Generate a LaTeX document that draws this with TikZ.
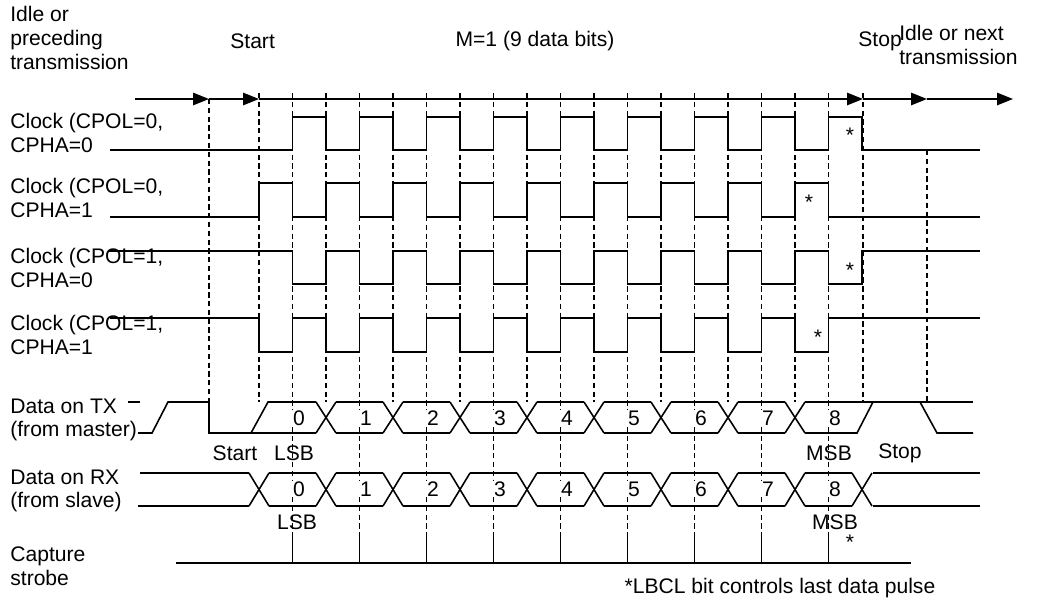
\documentclass[tikz,border=0pt]{standalone}
\usepackage{fontspec}
\setmainfont{Liberation Sans}
\usetikzlibrary{arrows.meta}
\tikzset{
  sig/.style={line width=0.9pt},
  grid/.style={dashed, line width=0.6pt, dash pattern=on 3pt off 2pt},
  lbl/.style={font=\fontsize{12}{13.5}\selectfont, inner sep=0pt, align=left},
  tip/.style={-{Triangle[length=9pt,width=7pt]}}
}
\begin{document}
\begin{tikzpicture}[x=0.02cm, y=-0.02cm]
\useasboundingbox (0,0) rectangle (1039,600);

% Header texts
\node[lbl, anchor=north west] (idlepre) at (10,6) {Idle or\\preceding\\transmission};
\node[lbl, anchor=west] (hstart) at (230,41) {Start};
\node[lbl] (mbits) at (535,41) {M=1 (9 data bits)};
\node[lbl, anchor=west] (hstop) at (858,41) {Stop};
\node[lbl, anchor=west] (idlenext) at (899,45) {Idle or next\\transmission};

% Time axis with arrows
\coordinate (t0) at (135,99);
\coordinate (t1) at (209,99);
\coordinate (t2) at (259,99);
\coordinate (t3) at (863,99);
\coordinate (t4) at (927,99);
\coordinate (t5) at (1013,99);
\draw[sig, tip] (t0) -- (t1);
\draw[sig, tip] (t1) -- (t2);
\draw[sig, tip] (t2) -- (t3);
\draw[sig, tip] (t3) -- (t4);
\draw[sig, tip] (t4) -- (t5);

% Dashed grid lines
\draw[grid] (209,99) -- (209,433);
\draw[grid] (259,93) -- (259,402);
\draw[grid] (863,93) -- (863,402);
\draw[grid] (927,150) -- (927,402);
\foreach \k in {1,...,8}
  \draw[grid] ({259+67*\k},93) -- ({259+67*\k},402);
\foreach \k in {0,...,8}
  \draw[grid] ({292.5+67*\k},93) -- ({292.5+67*\k},535);

% Row labels
\node[lbl, anchor=west] (ck00) at (10,133) {Clock (CPOL=0,\\CPHA=0};
\node[lbl, anchor=west] (ck01) at (10,198) {Clock (CPOL=0,\\CPHA=1};
\node[lbl, anchor=west] (ck10) at (10,268) {Clock (CPOL=1,\\CPHA=0};
\node[lbl, anchor=west] (ck11) at (10,335) {Clock (CPOL=1,\\CPHA=1};
\node[lbl, anchor=west] (txl) at (10,420) {Data on TX\\(from master)};
\node[lbl, anchor=west] (rxl) at (10,491) {Data on RX\\(from slave)};
\node[lbl, anchor=west] (strl) at (10,566) {Capture\\strobe};

% Clock waveforms
\draw[sig] (110,150) foreach \k in {0,...,8}{ -- ({292.5+67*\k},150) -- ({292.5+67*\k},117) -- ({326+67*\k},117) -- ({326+67*\k},150)} -- (980,150);
\draw[sig] (110,217) foreach \k in {0,...,8}{ -- ({259+67*\k},217) -- ({259+67*\k},183) -- ({292.5+67*\k},183) -- ({292.5+67*\k},217)} -- (980,217);
\draw[sig] (108,251) foreach \k in {0,...,8}{ -- ({292.5+67*\k},251) -- ({292.5+67*\k},284) -- ({326+67*\k},284) -- ({326+67*\k},251)} -- (980,251);
\draw[sig] (110,318) foreach \k in {0,...,8}{ -- ({259+67*\k},318) -- ({259+67*\k},352) -- ({292.5+67*\k},352) -- ({292.5+67*\k},318)} -- (980,318);
\node[lbl] (s1) at (850,135) {*};
\node[lbl] (s2) at (809,202) {*};
\node[lbl] (s3) at (850,270) {*};
\node[lbl] (s4) at (818,337) {*};

% TX data
\draw[sig] (138,433) -- (152,433) -- (168,402) -- (209,402) -- (209,433) -- (316,433);
\draw[sig] (251,433) -- (268,402) -- (316,402);
\foreach \k in {1,...,8}{
  \draw[sig] ({249+67*\k},402) -- ({269+67*\k},433);
  \draw[sig] ({249+67*\k},433) -- ({269+67*\k},402);
}
\foreach \k in {1,...,7}{
  \draw[sig] ({269+67*\k},402) -- ({316+67*\k},402);
  \draw[sig] ({269+67*\k},433) -- ({316+67*\k},433);
}
\draw[sig] (805,402) -- (973,402);
\draw[sig] (805,433) -- (857,433) -- (873,402);
\draw[sig] (920,402) -- (937,433) -- (973,433);
\draw[sig] (128,402) -- (140,402);

% RX data
\draw[sig] (140,473) -- (249,473);
\draw[sig] (138,506) -- (249,506);
\foreach \k in {0,...,9}{
  \draw[sig] ({249+67*\k},473) -- ({269+67*\k},506);
  \draw[sig] ({249+67*\k},506) -- ({269+67*\k},473);
}
\foreach \k in {0,...,8}{
  \draw[sig] ({269+67*\k},473) -- ({316+67*\k},473);
  \draw[sig] ({269+67*\k},506) -- ({316+67*\k},506);
}
\draw[sig] (873,473) -- (980,473);
\draw[sig] (873,506) -- (980,506);

% Bit numbers
\foreach \k in {0,...,8}{
  \node[lbl, fill=white, inner sep=0.5pt] (tx\k) at ({299+67*\k},418) {\k};
  \node[lbl, fill=white, inner sep=0.5pt] (rx\k) at ({299+67*\k},489) {\k};
}
\node[lbl] (tstart) at (235,453) {Start};
\node[lbl] (tlsb) at (294,453) {LSB};
\node[lbl] (tmsb) at (829,453) {MSB};
\node[lbl] (tstop) at (900,453) {Stop};
\node[lbl] (rlsb) at (297,522) {LSB};
\node[lbl] (rmsb) at (835,522) {MSB};
\node[lbl] (s5) at (850,542) {*};

% Capture strobe
\draw[sig] (176,563) -- (911,563);
\foreach \k in {0,...,8}
  \draw[sig] ({292.5+67*\k},535) -- ({292.5+67*\k},563);
\node[lbl] (foot) at (780,588) {*LBCL bit controls last data pulse};
\end{tikzpicture}
\end{document}
